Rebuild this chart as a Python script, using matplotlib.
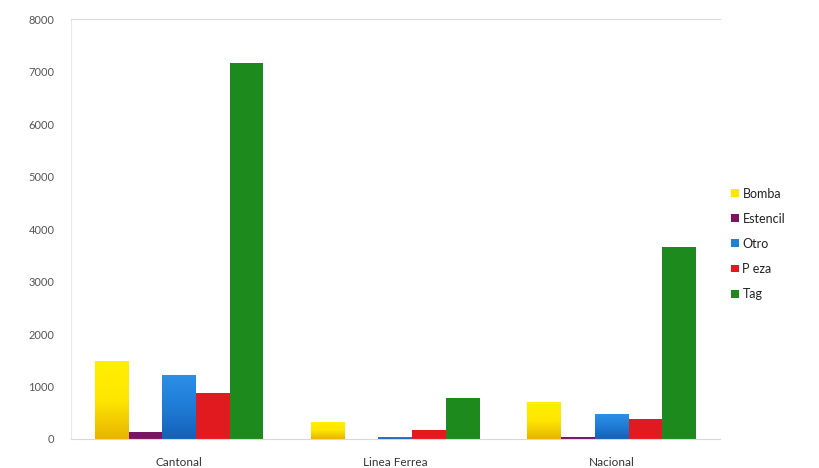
import numpy as np
import matplotlib
matplotlib.use('Agg')
import matplotlib.pyplot as plt
from matplotlib.colors import LinearSegmentedColormap

categories = ['Cantonal', 'Linea Ferrea', 'Nacional']
series = ['Bomba', 'Estencil', 'Otro', 'P eza', 'Tag']
bomba = [1480, 330, 700]
estencil = [140, 5, 45]
otro = [1220, 45, 475]
pieza = [870, 170, 380]
tag = [7160, 775, 3660]
yticks = [0, 1000, 2000, 3000, 4000, 5000, 6000, 7000, 8000]

colors = ['#FFE600', '#7B1462', '#1F80DA', '#E01A1F', '#1D8A1D']
values = [bomba, estencil, otro, pieza, tag]
# top -> bottom shading for the glossy looking bars
gradients = {0: ['#FFF000', '#FFE600', '#E9B400'], 2: ['#2C8FE8', '#1F7CD6', '#1560B8']}

plt.rcParams['font.family'] = ['Lato', 'DejaVu Sans']

fig = plt.figure(figsize=(8.19, 4.68), dpi=100)
ax = fig.add_axes([0.0867, 0.062, 0.792, 0.897])

x = np.arange(len(categories))
w = 0.156
for i, (name, vals) in enumerate(zip(series, values)):
    bars = ax.bar(x + (i - 2) * w, vals, width=w, color=colors[i], label=name)
    if i in gradients:
        cmap = LinearSegmentedColormap.from_list('g%d' % i, gradients[i][::-1])
        for b in bars:
            x0, y0 = b.get_x(), b.get_y()
            x1, y1 = x0 + b.get_width(), y0 + b.get_height()
            im = ax.imshow(np.linspace(0, 1, 100).reshape(-1, 1), cmap=cmap,
                           extent=[x0, x1, y0, y1], origin='lower',
                           aspect='auto', zorder=b.get_zorder() + 0.1)
            im.set_clip_path(b)

ax.set_xlim(-0.5, 2.5)
ax.set_ylim(0, 8000)
ax.set_yticks(yticks)
ax.set_yticklabels([str(t) for t in yticks], color='#555555', fontsize=8)
ax.set_xticks(x)
ax.set_xticklabels(categories, color='#333333', fontsize=8.5)
ax.tick_params(axis='y', length=0, pad=12)
ax.tick_params(axis='x', length=0, pad=13)

ax.spines['right'].set_visible(False)
ax.spines['top'].set_color('#d8d8d8')
ax.spines['bottom'].set_color('#d8d8d8')
ax.spines['left'].set_color('#e8e8e8')

leg = ax.legend(loc='center left', bbox_to_anchor=(1.01, 0.465), frameon=False,
                fontsize=9, handlelength=0.6, handleheight=0.6,
                handletextpad=0.3, labelspacing=1.05, borderaxespad=0)
for t in leg.get_texts():
    t.set_color('#222222')

fig.savefig('out.png', dpi=100)
